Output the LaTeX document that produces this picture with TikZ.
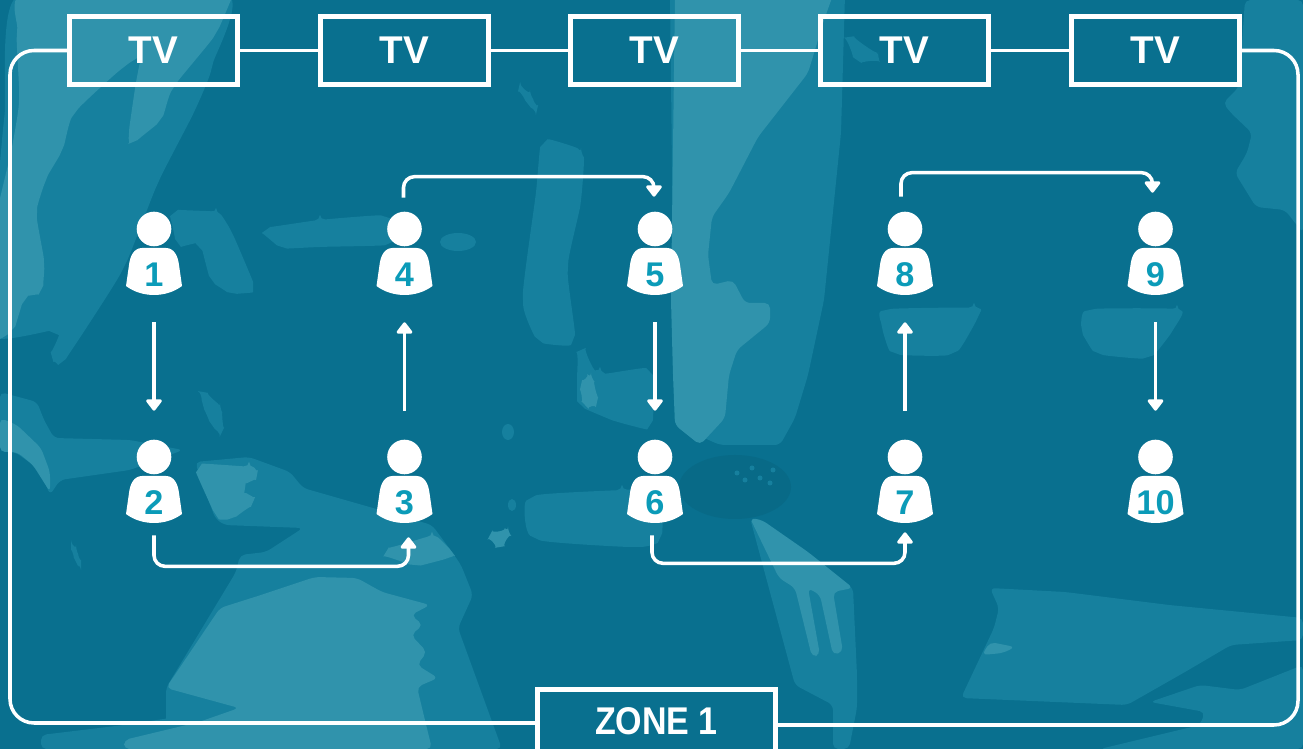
\documentclass[tikz,border=0pt]{standalone}
\usepackage{fontspec}
\setmainfont{Liberation Sans}
\newfontfamily\zonefont[FakeStretch=0.88]{Liberation Sans}
\usetikzlibrary{arrows.meta,calc}
\definecolor{basecol}{HTML}{09708F}
\definecolor{midcol}{HTML}{16809E}
\definecolor{lightcol}{HTML}{3093AC}
\definecolor{darkcol}{HTML}{086A87}
\definecolor{numcol}{HTML}{0B9BB8}
\tikzset{
    mid/.style={fill=midcol,rounded corners=3pt},
    light/.style={fill=lightcol,rounded corners=3pt},
    blot/.style={smooth cycle,tension=0.35},
    tvbox/.style={draw=white,line width=2.67pt,minimum width=3.36cm,minimum height=1.36cm,inner sep=0pt,text=white,font=\bfseries\fontsize{22}{24}\selectfont},
    zonebox/.style={tvbox,minimum width=4.76cm,minimum height=1.28cm,font=\zonefont\bfseries\fontsize{22}{24}\selectfont},
    frameline/.style={draw=white,line width=2pt,rounded corners=0.48cm},
    tvline/.style={draw=white,line width=2pt},
    personbox/.style={minimum width=1.12cm,minimum height=1.66cm,inner sep=0pt},
    persontext/.style={text=numcol,inner sep=0pt,font=\bfseries\fontsize{19.5}{22}\selectfont},
    flowline/.style={draw=white,line width=2pt,-{Triangle[width=0.36cm,length=0.25cm,round]}},
    bentline/.style={flowline,rounded corners=0.22cm},
    straightdown/.style={flowline,shorten <=0.54cm,shorten >=0.58cm},
    straightup/.style={flowline,shorten <=0.58cm,shorten >=0.54cm}
}
\begin{document}
\begin{tikzpicture}[x=0.02cm,y=-0.02cm]
    \useasboundingbox (0,0) rectangle (1303,749);
    \clip (0,0) rectangle (1303,749);
    \fill[basecol] (0,0) rectangle (1303,749);

    % background
    \fill[mid] plot[blot] coordinates {(21,-5) (224,-5) (212,67) (195,110) (158,183) (124,267) (83,333) (62,362) (52,357) (54,333) (-5,333) (-5,233) (4,120)};
    \fill[mid] plot[blot] coordinates {(174,213) (216,213) (232,233) (253,287) (232,293) (212,280) (199,247) (178,243)};
    \fill[mid] plot[blot] coordinates {(266,230) (320,220) (386,217) (390,243) (320,247) (282,247)};
    \fill[mid] (458,242) ellipse [x radius=18,y radius=9];
    \fill[mid] plot[blot] coordinates {(519,87) (530,95) (537,110) (528,104)};
    \fill[mid] plot[blot] coordinates {(544,143) (581,153) (581,200) (568,267) (573,340) (539,340) (523,300) (535,200)};
    \fill[mid] plot[blot] coordinates {(581,350) (600,372) (650,372) (650,425) (618,422) (581,405) (577,382)};
    \fill[mid] (670,-5) -- (845,-5) -- (841,133) -- (824,300) -- (808,375) -- (795,418) -- (780,445) -- (720,445) -- (675,425) -- cycle;
    \fill[mid] plot[blot] coordinates {(886,310) (974,308) (978,317) (953,353) (895,353) (882,327)};
    \fill[mid] plot[blot] coordinates {(1090,310) (1177,310) (1173,330) (1148,357) (1098,353) (1082,330)};
    \fill[mid] plot[blot] coordinates {(849,37) (878,57) (857,60)};
    \fill[mid] (1239,87) -- (1223,103) -- (1231,113) -- (1252,133) -- (1247,153) -- (1235,173) -- (1256,207) -- (1285,210) -- (1303,233) -- (1303,0) -- (1245,0) -- cycle;
    \fill[mid] (0,392) -- (37,402) -- (44,420) -- (54,438) -- (130,440) -- (183,450) -- (130,470) -- (60,480) -- (50,495) -- (40,470) -- (15,452) -- (0,452) -- cycle;
    \fill[mid] plot[blot] coordinates {(203,392) (220,408) (222,432) (212,425) (203,405)};
    \fill[mid] plot[blot] coordinates {(71,545) (76,550) (81,565) (76,562)};
    \fill[mid] (195,462) -- (249,457) -- (290,472) -- (303,488) -- (373,508) -- (432,525) -- (452,552) -- (461,565) -- (473,595) -- (458,628) -- (502,749) -- (166,749) -- (166,688) -- (236,572) -- (240,555) -- (266,552) -- (303,528) -- (224,525) -- (215,518) -- cycle;
    \fill[mid] (41,749) -- (41,735) -- (124,725) -- (236,708) -- (260,749) -- cycle;
    \fill[mid] plot[blot] coordinates {(531,498) (622,490) (660,492) (660,538) (635,547) (535,538)};
    \fill[mid] (508,432) ellipse [x radius=6,y radius=8];
    \fill[mid] (512,505) ellipse [x radius=4,y radius=6];
    \fill[mid] (750,518) -- (795,685) -- (833,705) -- (833,749) -- (849,749) -- (857,708) -- (857,675) -- (853,588) -- cycle;
    \fill[mid] (990,588) -- (1065,592) -- (1169,605) -- (1303,618) -- (1303,640) -- (1231,645) -- (1185,672) -- (1127,705) -- (961,698) -- (994,628) -- (999,608) -- cycle;
    \fill[mid] (1150,702) -- (1200,685) -- (1240,690) -- (1303,665) -- (1303,749) -- (1100,749) -- (1200,725) -- (1205,712) -- cycle;

    \fill[light] plot[blot] coordinates {(25,-5) (178,-5) (183,10) (178,33) (124,67) (75,113) (62,150) (46,180) (37,213) (44,263) (41,290) (25,300) (12,330) (-5,333) (-5,227) (12,147) (19,100) (17,33)};
    \fill[light] plot[blot] coordinates {(183,-5) (228,-5) (216,33) (174,87) (160,120) (133,142) (129,133) (137,77) (145,50) (178,20)};
    \fill[light] (675,-5) -- (833,-5) -- (824,20) -- (808,73) -- (758,137) -- (729,193) -- (712,217) -- (708,255) -- (712,285) -- (733,280) -- (745,303) -- (770,303) -- (770,323) -- (737,350) -- (729,375) -- (725,418) -- (700,445) -- (675,425) -- (673,375) -- (671,300) -- cycle;
    \fill[light] (0,418) -- (17,425) -- (41,448) -- (50,472) -- (50,492) -- (33,465) -- (17,452) -- (0,452) -- cycle;
    \fill[light] plot[blot] coordinates {(199,468) (249,467) (257,475) (245,488) (253,502) (232,518) (216,515)};
    \fill[light] plot[blot] coordinates {(386,552) (432,537) (452,552) (448,558) (415,565)};
    \fill[light] plot[blot] coordinates {(490,535) (508,532) (500,547)};
    \fill[light] plot[blot] coordinates {(581,385) (591,378) (597,402) (585,405)};
    \fill[light] (220,608) -- (261,595) -- (315,577) -- (357,578) -- (382,592) -- (430,605) -- (411,615) -- (423,625) -- (411,635) -- (427,652) -- (417,665) -- (438,678) -- (417,687) -- (423,712) -- (432,749) -- (124,749) -- (124,740) -- (199,722) -- (239,708) -- (166,688) -- cycle;
    \fill[light] (750,518) -- (762,520) -- (808,552) -- (853,588) -- (833,592) -- (843,652) -- (833,655) -- (820,595) -- (808,588) -- (820,655) -- (812,657) -- (795,588) -- (779,578) -- cycle;
    \fill[light] (982,655) -- (990,642) -- (1015,647) -- (1003,653) -- cycle;

    \fill[darkcol] (735,487) ellipse [x radius=56,y radius=32];
    \foreach \xx/\yy in {737/473,752/468,760/478,770/483,745/480,773/470}
        \fill[midcol] (\xx,\yy) circle [radius=2.5];

    % boxes
    \foreach \name/\xx in {1/153.5,2/404.5,3/654.5,4/904.5,5/1155.5}
        \node[tvbox] (TV\name) at (\xx,50.5) {TV};
    \node[zonebox] (ZONE) at (656.5,721.5) {ZONE 1};

    \coordinate (FA) at (10,50.5);
    \coordinate (FB) at (10,723);
    \coordinate (FC) at (1298,50.5);
    \coordinate (FD) at (1298,725);
    \coordinate (FE) at (537,723);
    \coordinate (FF) at (776,725);

    \draw[tvline] (TV1) -- (TV2);
    \draw[tvline] (TV2) -- (TV3);
    \draw[tvline] (TV3) -- (TV4);
    \draw[tvline] (TV4) -- (TV5);
    \draw[frameline] (TV1.west) -- (FA) -- (FB) -- (FE);
    \draw[frameline] (TV5.east) -- (FC) -- (FD) -- (FF);

    % people
    \foreach \num/\xx/\yy in {1/154/229,2/154/457,3/404.5/457,4/404.5/229,5/655/229,6/655/457,7/905/457,8/905/229,9/1155.5/229,10/1155.5/457} {
        \begin{scope}[shift={(\xx,\yy)}]
            \fill[white] (0,0) circle [radius=17.3];
            \fill[white] (-12,19) -- (12,19) .. controls (20,19) and (24,27) .. (25,36) -- (28,57) .. controls (20,63) and (10,66) .. (0,66) .. controls (-10,66) and (-20,63) .. (-28,57) -- (-25,36) .. controls (-24,27) and (-20,19) .. (-12,19) -- cycle;
            \node[personbox] (P\num) at (0,24.5) {};
            \node[persontext] (N\num) at (0,45.5) {\num};
        \end{scope}
    }

    \coordinate (S2) at ($(P2.south)+(0,12)$);
    \coordinate (E3) at ($(P3.south)+(4,14)$);
    \coordinate (S6) at ($(P6.south)+(-3,12)$);
    \coordinate (E7) at ($(P7.south)+(0,9)$);
    \coordinate (S4) at ($(P4.north)+(-1,-14)$);
    \coordinate (E5) at ($(P5.north)+(-1,-15)$);
    \coordinate (S8) at ($(P8.north)+(-4,-15)$);
    \coordinate (E9) at ($(P9.north)+(-3,-19)$);

    \draw[straightdown] (P1.south) -- (P2.north);
    \draw[straightup] (P3.north) -- (P4.south);
    \draw[straightdown] (P5.south) -- (P6.north);
    \draw[straightup] (P7.north) -- (P8.south);
    \draw[straightdown] (P9.south) -- (P10.north);
    \draw[bentline] (S2) -- ++(0,31) -| (E3);
    \draw[bentline] (S6) -- ++(0,28) -| (E7);
    \draw[bentline] (S4) -- ++(0,-21) -| (E5);
    \draw[bentline] (S8) -- ++(0,-24) -| (E9);
\end{tikzpicture}
\end{document}
